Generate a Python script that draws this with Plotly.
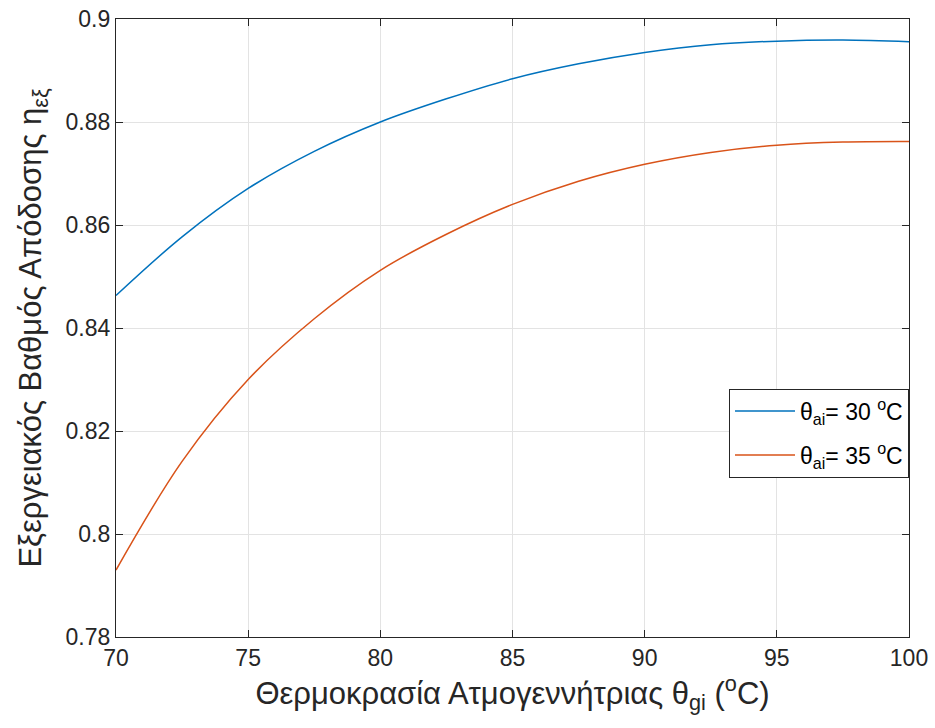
import plotly.graph_objects as go

# Steam-generator temperature (°C)
theta_g = [70, 72.5, 75, 77.5, 80, 82.5, 85, 87.5, 90, 92.5, 95, 97.5, 100]

# Exergy efficiency for ambient temperature 30 °C and 35 °C
eta_30 = [0.8463, 0.8577, 0.8671, 0.8743, 0.8800, 0.8845, 0.8884, 0.8913,
          0.8935, 0.8950, 0.8957, 0.8959, 0.8956]
eta_35 = [0.7930, 0.8141, 0.8300, 0.8418, 0.8512, 0.8582, 0.8640, 0.8685,
          0.8718, 0.8741, 0.8755, 0.8761, 0.8762]

series_names = ["θ<sub>ai</sub>= 30 <sup>o</sup>C", "θ<sub>ai</sub>= 35 <sup>o</sup>C"]
series_colors = ["#0072BD", "#D95319"]

x_ticks = [70, 75, 80, 85, 90, 95, 100]
y_ticks = [0.78, 0.80, 0.82, 0.84, 0.86, 0.88, 0.90]
y_tick_text = ["0.78", "0.8", "0.82", "0.84", "0.86", "0.88", "0.9"]

font_family = "Liberation Sans, Arial, Helvetica, sans-serif"

fig = go.Figure()
for i, (vals, name, color) in enumerate(zip([eta_30, eta_35], series_names, series_colors)):
    fig.add_trace(go.Scatter(
        x=theta_g, y=vals, mode="lines", name=name, legendgroup=f"g{i}",
        line=dict(color=color, width=1.5, shape="spline", smoothing=1.0),
    ))

axis_common = dict(
    showline=True, linecolor="#262626", linewidth=1.3, mirror="ticks",
    ticks="inside", ticklen=7, tickcolor="#262626", tickwidth=1.3,
    showgrid=True, gridcolor="#e3e3e3", gridwidth=1, zeroline=False,
    automargin=False,
    tickfont=dict(family=font_family, size=23, color="#262626"),
)

fig.update_layout(
    width=935, height=728,
    margin=dict(l=116, r=26, t=19, b=91),
    paper_bgcolor="white", plot_bgcolor="white",
    font=dict(family=font_family, color="#262626"),
    showlegend=True,
    legend=dict(
        x=1.0, y=0.33, xanchor="right", yanchor="middle",
        bgcolor="white", bordercolor="#262626", borderwidth=1,
        font=dict(family=font_family, size=23, color="#000000"),
        tracegroupgap=11, itemwidth=60,
    ),
    xaxis=dict(
        range=[70, 100], tickvals=x_ticks,
        title=dict(text="Θερμοκρασία Ατμογεννήτριας θ<sub>gi</sub> (<sup>o</sup>C)",
                   font=dict(family=font_family, size=31, color="#262626"),
                   standoff=8),
        **axis_common,
    ),
    yaxis=dict(
        range=[0.78, 0.9], tickvals=y_ticks, ticktext=y_tick_text,
        title=dict(text="Εξεργειακός Βαθμός Απόδοσης η<sub>εξ</sub>",
                   font=dict(family=font_family, size=31, color="#262626"),
                   standoff=14),
        **axis_common,
    ),
)

fig.write_html("out.html")
